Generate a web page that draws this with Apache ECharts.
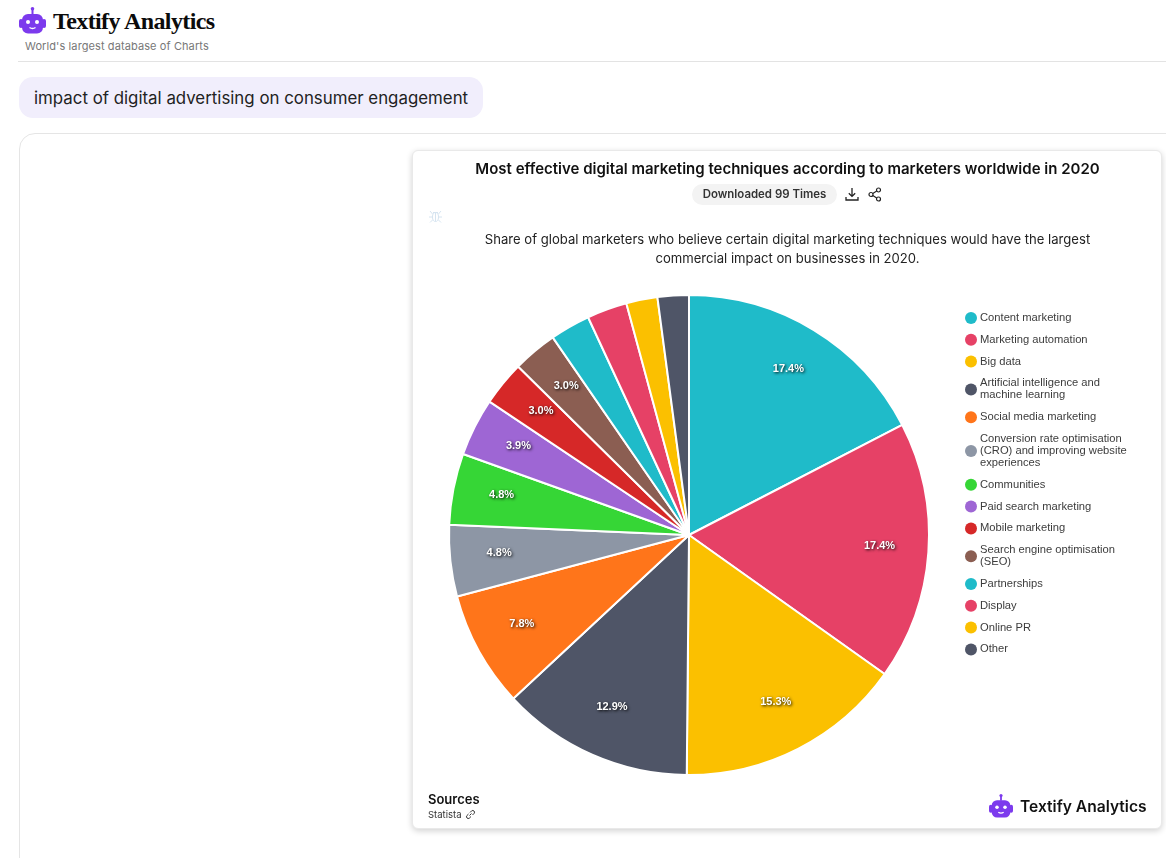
<!DOCTYPE html>
<html>
<head>
<meta charset="utf-8">
<title>Textify Analytics</title>
<script src="https://cdn.jsdelivr.net/npm/echarts@6/dist/echarts.min.js"></script>
<style>
  html, body { margin: 0; padding: 0; background: #fff; }
  body { width: 1166px; height: 858px; position: relative; overflow: hidden; font-family: Inter, "Noto Sans", sans-serif; color: #111; }
  .abs { position: absolute; white-space: nowrap; }
  .brand { left: 53px; top: 6px; font: bold 24px/30px "Liberation Serif", serif; letter-spacing: -0.6px; color: #0b0b0b; }
  .tagline { left: 25px; top: 39px; font-size: 11px; line-height: 14px; color: #777; letter-spacing: 0.1px; }
  .rule { left: 18px; top: 61px; right: 0; height: 1px; background: #e3e3e3; }
  .pill { left: 19px; top: 77px; width: 464px; height: 41px; border-radius: 14px; background: #f1eefc; font-size: 16.85px; line-height: 42px; text-indent: 15px; color: #222; }
  .frame { left: 19px; top: 133px; width: 1170px; height: 760px; border: 1px solid #e5e5e5; border-radius: 16px; box-sizing: border-box; }
  .card { left: 412px; top: 150px; width: 750px; height: 679px; box-sizing: border-box; border: 1px solid #e9e9e9; border-radius: 6px; box-shadow: 0 2px 6px rgba(0,0,0,.18); background: #fff; }
  #chart { position: absolute; left: 413px; top: 150px; width: 749px; height: 679px; }
  .title { left: 413px; width: 749px; top: 159px; text-align: center; font-size: 15px; line-height: 20px; font-weight: 600; }
  .badge { left: 692px; top: 184px; width: 145px; height: 21px; border-radius: 11px; background: #f3f3f3; text-align: center; font-size: 11.45px; line-height: 21px; font-weight: 600; color: #333; }
  .sub { left: 413px; width: 749px; top: 230px; text-align: center; font-size: 13.1px; line-height: 19px; color: #222; }
  .src { left: 428px; top: 791px; font-size: 13px; line-height: 16px; font-weight: 600; }
  .srcname { left: 428px; top: 809px; font-size: 9.5px; line-height: 12px; color: #333; }
  .logo { left: 1020px; top: 797px; font-size: 15.6px; line-height: 20px; font-weight: 600; }
  svg.abs { overflow: visible; }
</style>
</head>
<body>
  <svg class="abs" style="left:19px;top:7px" width="27" height="27" viewBox="0 0 27 27"><use href="#bot"/></svg>
  <div class="abs brand">Textify Analytics</div>
  <div class="abs tagline">World's largest database of Charts</div>
  <div class="abs rule"></div>
  <div class="abs pill">impact of digital advertising on consumer engagement</div>
  <div class="abs frame"></div>
  <div class="abs card"></div>
  <div id="chart"></div>
  <div class="abs title">Most effective digital marketing techniques according to marketers worldwide in 2020</div>
  <div class="abs badge">Downloaded 99 Times</div>
  <svg class="abs" style="left:845px;top:187px" width="14" height="15" viewBox="0 0 14 15" fill="none" stroke="#222" stroke-width="1.3"><path d="M7 1v8M3.8 6.2 7 9.4l3.2-3.2M1 10v3h12v-3"/></svg>
  <svg class="abs" style="left:868px;top:187px" width="14" height="15" viewBox="0 0 14 15" fill="none" stroke="#222" stroke-width="1.2"><circle cx="3" cy="7.5" r="2"/><circle cx="10.5" cy="3" r="2"/><circle cx="10.5" cy="12" r="2"/><path d="M4.8 6.4 8.7 4M4.8 8.6l3.9 2.4"/></svg>
  <svg class="abs" style="left:429px;top:209px" width="13" height="14" viewBox="0 0 13 14" fill="none" stroke="#d6e4f0" stroke-width="1"><ellipse cx="6.5" cy="8" rx="3" ry="4.5"/><path d="M4 3.500h5M1 2l2.500 3M12 2 9.500 5M0 8h3.500M13 8H9.500M1 13.500l2.500-2.500M12 13.500 9.500 11M6.500 4v8.500"/></svg>
  <div class="abs sub">Share of global marketers who believe certain digital marketing techniques would have the largest<br>commercial impact on businesses in 2020.</div>
  <div class="abs src">Sources</div>
  <div class="abs srcname">Statista</div>
  <svg class="abs" style="left:465px;top:809px" width="11" height="11" viewBox="0 0 11 11" fill="none" stroke="#333" stroke-width="1"><path d="M4.500 6.500 6.500 4.500M3.500 5 1.800 6.700a1.800 1.800 0 0 0 2.500 2.500L6 7.500M5 3.500l1.700-1.700a1.800 1.800 0 0 1 2.500 2.500L7.500 6"/></svg>
  <svg class="abs" style="left:989px;top:794px" width="24" height="24" viewBox="0 0 27 27"><use href="#bot"/></svg>
  <div class="abs logo">Textify Analytics</div>

  <svg width="0" height="0" style="position:absolute"><defs>
    <g id="bot">
      <rect x="12.500" y="2.500" width="2" height="5" fill="#7c3aed"/><circle cx="13.500" cy="1.800" r="1.800" fill="#7c3aed"/>
      <rect x="3" y="7" width="21" height="19.500" rx="6" fill="#7c3aed"/>
      <rect x="0" y="12" width="4" height="9" rx="2" fill="#7c3aed"/><rect x="23" y="12" width="4" height="9" rx="2" fill="#7c3aed"/>
      <circle cx="9" cy="15" r="2" fill="#fff"/><circle cx="18" cy="15" r="2" fill="#fff"/>
      <path d="M10.500 20.500q3 2 6 0" stroke="#fff" stroke-width="1.500" fill="none"/>
    </g>
  </defs></svg>

<script>
  const categories = [
    'Content marketing', 'Marketing automation', 'Big data',
    'Artificial intelligence and\nmachine learning', 'Social media marketing',
    'Conversion rate optimisation\n(CRO) and improving website\nexperiences',
    'Communities', 'Paid search marketing', 'Mobile marketing',
    'Search engine optimisation\n(SEO)', 'Partnerships', 'Display', 'Online PR', 'Other'
  ]
  const shares = [17.4, 17.4, 15.3, 12.9, 7.8, 4.8, 4.8, 3.9, 3.0, 3.0, 2.7, 2.7, 2.1, 2.1]
  const colors = [
    '#1fbbc9', '#e64166', '#fbc000', '#4f5567', '#ff751a', '#8d96a5', '#36d636',
    '#9e66d4', '#d62828', '#8b5e52', '#1fbbc9', '#e64166', '#fbc000', '#4f5567'
  ]
  const pieData = categories.map((name, i) => ({ name: name, value: shares[i] }))

  const chart = echarts.init(document.getElementById('chart'))
  chart.setOption({
    animation: false,
    color: colors,
    legend: {
      orient: 'vertical',
      left: 547,
      top: 157,
      icon: 'circle',
      itemWidth: 12,
      itemHeight: 12,
      itemGap: 9.8,
      selectedMode: false,
      itemStyle: { borderWidth: 0 },
      textStyle: {
        fontFamily: 'Liberation Sans',
        fontSize: 11.2,
        lineHeight: 12,
        color: '#3c3c3c',
        padding: [0, 0, 0, -2]
      },
      data: categories
    },
    series: [
      {
        type: 'pie',
        center: [276, 385],
        radius: [0, 240],
        startAngle: 90,
        silent: true,
        label: { show: false },
        labelLine: { show: false },
        itemStyle: { borderColor: '#fff', borderWidth: 2 },
        data: pieData
      },
      {
        // transparent ring, only here so the labels sit out near the rim
        type: 'pie',
        center: [276, 385],
        radius: [136, 240],
        startAngle: 90,
        silent: true,
        itemStyle: { color: 'transparent', borderWidth: 0 },
        labelLine: { show: false },
        labelLayout: { dy: -3 },
        label: {
          position: 'inside',
          fontFamily: 'Liberation Sans',
          fontSize: 11,
          fontWeight: 'bold',
          color: '#fff',
          textBorderWidth: 0,
          textShadowColor: '#000',
          textShadowBlur: 3,
          textShadowOffsetX: 1,
          textShadowOffsetY: 1,
          formatter: p => (p.value >= 3 ? p.value.toFixed(1) + '%' : '')
        },
        data: pieData
      }
    ]
  })
</script>
</body>
</html>
